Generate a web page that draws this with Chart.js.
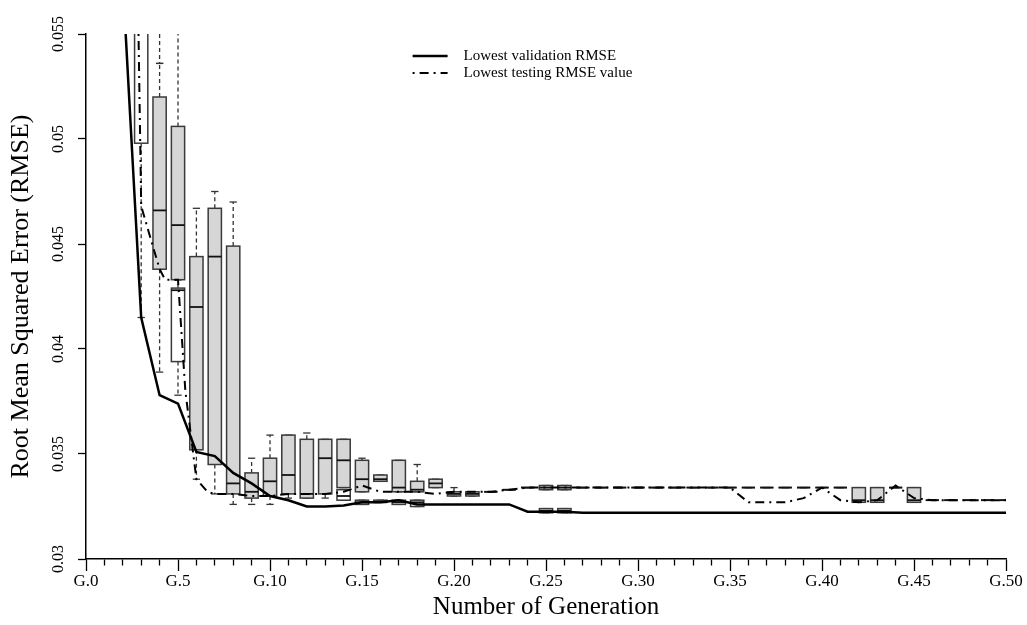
<!DOCTYPE html>
<html>
<head>
<meta charset="utf-8">
<script src="https://cdn.jsdelivr.net/npm/chart.js@4.4.0/dist/chart.umd.min.js"></script>
<style>
  html, body { margin: 0; padding: 0; background: #fff; }
  #wrap { width: 1027px; height: 625px; }
</style>
</head>
<body>
<div id="wrap"><canvas id="chart" width="1027" height="625"></canvas></div>
<script>
// lowest validation RMSE per generation
const validationGen = [2, 3, 4, 5, 6, 7, 8, 9, 10, 11, 12, 13, 14, 15, 16, 17, 18, 19, 20, 21, 22, 23, 24, 25, 26,
  27, 28, 29, 30, 31, 32, 33, 34, 35, 36, 37, 38, 39, 40, 41, 42, 43, 44, 45, 46, 47, 48, 49, 50];
const validationRmse = [0.0575, 0.0415, 0.0378, 0.0374, 0.0351, 0.0349, 0.0341, 0.0336, 0.0330, 0.0328, 0.0325, 0.0325, 0.03255,
  0.0327, 0.0327, 0.0328, 0.0326, 0.0326, 0.0326, 0.0326, 0.0326, 0.0326, 0.03225, 0.03225, 0.03225,
  0.0322, 0.0322, 0.0322, 0.0322, 0.0322, 0.0322, 0.0322, 0.0322, 0.0322, 0.0322, 0.0322, 0.0322, 0.0322,
  0.0322, 0.0322, 0.0322, 0.0322, 0.0322, 0.0322, 0.0322, 0.0322, 0.0322, 0.0322, 0.0322];

// lowest testing RMSE
const testingGen = [2.8, 3, 4, 4.3, 5, 5.4, 6, 6.6, 7, 8, 9, 10, 11, 12, 13, 14, 15, 16, 17, 18, 19, 20, 21, 22, 23,
  24, 25, 26, 27, 28, 29, 30, 31, 32, 33, 34, 35, 36, 37, 38, 39, 40, 41, 42, 43, 44, 45, 46, 47, 48, 49, 50];
const testingRmse = [0.058, 0.0468, 0.0438, 0.0433, 0.0433, 0.0380, 0.0338, 0.0332, 0.0331, 0.0331, 0.0330, 0.0330, 0.0331,
  0.0331, 0.0331, 0.0332, 0.0335, 0.0332, 0.0332, 0.0332, 0.0331, 0.0332, 0.0332, 0.0332, 0.0333,
  0.0334, 0.0334, 0.0334, 0.0334, 0.0334, 0.0334, 0.0334, 0.0334, 0.0334, 0.0334, 0.0334, 0.0334,
  0.0327, 0.0327, 0.0327, 0.0329, 0.0334, 0.0328, 0.0327, 0.0328, 0.0335, 0.0329, 0.0328, 0.0328, 0.0328, 0.0328, 0.0328];

// boxplots: [generation, min, q1, median, q3, max]
const greyBoxes = [
  [4, 0.0389, 0.0438, 0.0466, 0.0520, 0.0536],
  [5, 0.0433, 0.0433, 0.0459, 0.0506, 0.0580],
  [6, 0.0338, 0.0352, 0.0420, 0.0444, 0.0467],
  [7, 0.0331, 0.0345, 0.0444, 0.0467, 0.0475],
  [8, 0.0326, 0.0331, 0.0336, 0.0449, 0.0470],
  [9, 0.0326, 0.0329, 0.0332, 0.0341, 0.0348],
  [10, 0.0326, 0.0330, 0.0337, 0.0348, 0.0359],
  [11, 0.0329, 0.0331, 0.0340, 0.0359, 0.0359],
  [12, 0.0329, 0.0329, 0.0331, 0.0357, 0.0360],
  [13, 0.0329, 0.0331, 0.0348, 0.0357, 0.0357],
  [14, 0.0334, 0.0334, 0.0347, 0.0357, 0.0357],
  [15, 0.0332, 0.0332, 0.0338, 0.0347, 0.0348],
  [16, 0.0337, 0.0337, 0.0338, 0.0340, 0.0340],
  [17, 0.0332, 0.0332, 0.0334, 0.0347, 0.0347],
  [18, 0.0332, 0.0332, 0.0333, 0.0337, 0.0345],
  [19, 0.0334, 0.0334, 0.0336, 0.0338, 0.0338],
  [20, 0.0330, 0.0330, 0.0331, 0.0332, 0.0334],
  [21, 0.0330, 0.0330, 0.0331, 0.0332, 0.0332],
  [22, 0.0332, 0.0332, 0.0332, 0.0332, 0.0332],
  [23, 0.0333, 0.0333, 0.0333, 0.0333, 0.0333],
  [24, 0.0334, 0.0334, 0.0334, 0.0334, 0.0334],
  [25, 0.0333, 0.0333, 0.0334, 0.0335, 0.0335],
  [26, 0.0333, 0.0333, 0.0334, 0.0335, 0.0335],
  [27, 0.0334, 0.0334, 0.0334, 0.0334, 0.0334],
  [28, 0.0334, 0.0334, 0.0334, 0.0334, 0.0334],
  [29, 0.0334, 0.0334, 0.0334, 0.0334, 0.0334],
  [30, 0.0334, 0.0334, 0.0334, 0.0334, 0.0334],
  [31, 0.0334, 0.0334, 0.0334, 0.0334, 0.0334],
  [32, 0.0334, 0.0334, 0.0334, 0.0334, 0.0334],
  [33, 0.0334, 0.0334, 0.0334, 0.0334, 0.0334],
  [34, 0.0334, 0.0334, 0.0334, 0.0334, 0.0334],
  [35, 0.0334, 0.0334, 0.0334, 0.0334, 0.0334],
  [36, 0.0334, 0.0334, 0.0334, 0.0334, 0.0334],
  [37, 0.0334, 0.0334, 0.0334, 0.0334, 0.0334],
  [38, 0.0334, 0.0334, 0.0334, 0.0334, 0.0334],
  [39, 0.0334, 0.0334, 0.0334, 0.0334, 0.0334],
  [40, 0.0334, 0.0334, 0.0334, 0.0334, 0.0334],
  [41, 0.0334, 0.0334, 0.0334, 0.0334, 0.0334],
  [42, 0.0327, 0.0327, 0.0328, 0.0334, 0.0334],
  [43, 0.0327, 0.0327, 0.0328, 0.0334, 0.0334],
  [44, 0.0334, 0.0334, 0.0334, 0.0334, 0.0334],
  [45, 0.0327, 0.0327, 0.0328, 0.0334, 0.0334],
  [46, 0.0328, 0.0328, 0.0328, 0.0328, 0.0328],
  [47, 0.0328, 0.0328, 0.0328, 0.0328, 0.0328],
  [48, 0.0328, 0.0328, 0.0328, 0.0328, 0.0328],
  [49, 0.0328, 0.0328, 0.0328, 0.0328, 0.0328],
  [50, 0.0328, 0.0328, 0.0328, 0.0328, 0.0328]
];
const whiteBoxes = [
  [3, 0.0415, 0.0498, 0.0580, 0.0600, 0.0620],
  [4, 0.0536, 0.0570, 0.0580, 0.0590, 0.0600],
  [5, 0.0378, 0.0394, 0.0428, 0.0429, 0.0433],
  [14, 0.0328, 0.0328, 0.0330, 0.0333, 0.0333],
  [15, 0.0326, 0.0326, 0.0327, 0.0328, 0.0328],
  [16, 0.0327, 0.0327, 0.0327, 0.0328, 0.0328],
  [17, 0.0326, 0.0326, 0.0327, 0.0328, 0.0328],
  [18, 0.0325, 0.0325, 0.0327, 0.0328, 0.0328],
  [25, 0.0322, 0.0322, 0.0323, 0.0324, 0.0324],
  [26, 0.0322, 0.0322, 0.0323, 0.0324, 0.0324]
];

const yTicks = [0.03, 0.035, 0.04, 0.045, 0.05, 0.055];
const yTickLabels = ['0.03', '0.035', '0.04', '0.045', '0.05', '0.055'];
const seriesLabels = ['Lowest validation RMSE', 'Lowest testing RMSE value'];

const SERIF = "'Liberation Serif', 'DejaVu Serif', serif";

function toPoints(xs, ys) {
  return xs.map((g, i) => ({ x: g, y: ys[i] }));
}

// draws the box-and-whisker marks through the chart's scales
const boxPlugin = {
  id: 'boxes',
  beforeDatasetsDraw(chart) {
    const { ctx, chartArea, scales: { x, y } } = chart;
    const half = (x.getPixelForValue(1) - x.getPixelForValue(0)) * 0.36;
    const seg = (x1, y1, x2, y2) => { ctx.beginPath(); ctx.moveTo(x1, y1); ctx.lineTo(x2, y2); ctx.stroke(); };
    ctx.save();
    ctx.beginPath();
    ctx.rect(chartArea.left, chartArea.top, chartArea.width, chartArea.height);
    ctx.clip();
    const drawSet = (rows, fill) => {
      rows.forEach(([g, lo, q1, med, q3, hi]) => {
        const cx = x.getPixelForValue(g);
        const pLo = y.getPixelForValue(lo), pQ1 = y.getPixelForValue(q1);
        const pMed = y.getPixelForValue(med), pQ3 = y.getPixelForValue(q3), pHi = y.getPixelForValue(hi);
        ctx.strokeStyle = '#333';
        ctx.lineWidth = 1.3;
        ctx.setLineDash([4, 3]);
        if (pHi < pQ3) seg(cx, pQ3, cx, pHi);
        if (pLo > pQ1) seg(cx, pQ1, cx, pLo);
        ctx.setLineDash([]);
        seg(cx - half * 0.55, pHi, cx + half * 0.55, pHi);
        seg(cx - half * 0.55, pLo, cx + half * 0.55, pLo);
        ctx.fillStyle = fill;
        ctx.fillRect(cx - half, pQ3, half * 2, pQ1 - pQ3);
        ctx.strokeStyle = '#3a3a3a';
        ctx.lineWidth = 1.5;
        ctx.strokeRect(cx - half, pQ3, half * 2, pQ1 - pQ3);
        ctx.strokeStyle = '#111';
        ctx.lineWidth = 1.8;
        seg(cx - half, pMed, cx + half, pMed);
      });
    };
    drawSet(whiteBoxes, '#ffffff');
    drawSet(greyBoxes, '#d6d6d6');
    ctx.restore();
  }
};

// legend inside the plot, R style
const legendPlugin = {
  id: 'rlegend',
  afterDatasetsDraw(chart) {
    const { ctx, chartArea } = chart;
    const x0 = chartArea.left + chartArea.width * 0.355;
    const y0 = chartArea.top + 22;
    ctx.save();
    ctx.font = '15px ' + SERIF;
    ctx.fillStyle = '#000';
    ctx.textBaseline = 'middle';
    chart.data.datasets.forEach((ds, i) => {
      const yy = y0 + i * 17;
      ctx.strokeStyle = ds.borderColor;
      ctx.lineWidth = ds.borderWidth;
      ctx.setLineDash(ds.borderDash || []);
      ctx.beginPath();
      ctx.moveTo(x0, yy);
      ctx.lineTo(x0 + 35, yy);
      ctx.stroke();
      ctx.setLineDash([]);
      ctx.fillText(seriesLabels[i], x0 + 51, yy);
    });
    ctx.restore();
  }
};

new Chart(document.getElementById('chart'), {
  type: 'line',
  data: {
    datasets: [
      {
        label: seriesLabels[0],
        data: toPoints(validationGen, validationRmse),
        borderColor: '#000',
        borderWidth: 2.5,
        pointRadius: 0,
        tension: 0
      },
      {
        label: seriesLabels[1],
        data: toPoints(testingGen, testingRmse),
        borderColor: '#000',
        borderWidth: 2,
        borderDash: [2, 5, 9, 5],
        pointRadius: 0,
        tension: 0
      }
    ]
  },
  options: {
    responsive: false,
    animation: false,
    layout: { padding: { top: 34, right: 21, left: 0, bottom: 0 } },
    plugins: {
      legend: { display: false },
      tooltip: { enabled: false }
    },
    scales: {
      x: {
        type: 'linear',
        min: 0,
        max: 50,
        afterFit: (s) => { s.height = 66; },
        ticks: {
          stepSize: 1,
          autoSkip: false,
          maxRotation: 0,
          color: '#000',
          padding: 0,
          font: { family: SERIF, size: 17 },
          callback: (v) => (v % 5 === 0 ? 'G.' + v : '')
        },
        grid: {
          drawOnChartArea: false,
          tickLength: 12,
          tickColor: '#000',
          tickWidth: 1.3,
          tickBorderDash: (c) => (c.tick && c.tick.value % 5 === 0 ? [] : [6, 30])
        },
        border: { display: true, color: '#000', width: 1.5 },
        title: {
          display: true,
          text: 'Number of Generation',
          color: '#000',
          font: { family: SERIF, size: 25 },
          padding: { top: 0, bottom: 3 }
        }
      },
      y: {
        min: 0.03,
        max: 0.055,
        afterFit: (s) => { s.width = 86; },
        afterBuildTicks: (s) => { s.ticks = yTicks.map((v) => ({ value: v })); },
        ticks: {
          minRotation: 90,
          maxRotation: 90,
          crossAlign: 'center',
          color: '#000',
          padding: 1,
          font: { family: SERIF, size: 16 },
          callback: (v) => yTickLabels[yTicks.indexOf(v)]
        },
        grid: {
          drawOnChartArea: false,
          tickLength: 8,
          tickColor: '#000',
          tickWidth: 1.3
        },
        border: { display: true, color: '#000', width: 1.5 },
        title: {
          display: true,
          text: 'Root Mean Squared Error (RMSE)',
          color: '#000',
          font: { family: SERIF, size: 26 },
          padding: { top: 6, bottom: 0 }
        }
      }
    }
  },
  plugins: [boxPlugin, legendPlugin]
});
</script>
</body>
</html>
